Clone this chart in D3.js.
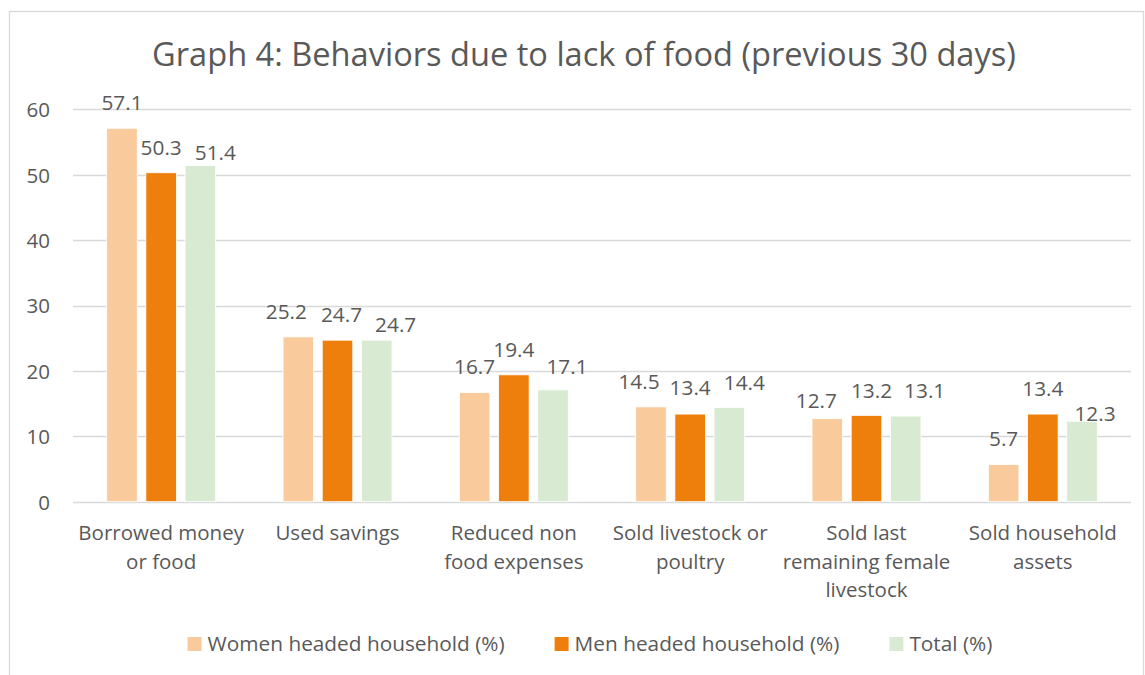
<!DOCTYPE html>
<html>
<head>
<meta charset="utf-8">
<script src="https://cdn.jsdelivr.net/npm/d3@7"></script>
<style>
  html, body { margin: 0; padding: 0; background: #fff; }
  svg { display: block; font-family: "Open Sans", "Noto Sans", sans-serif; }
</style>
</head>
<body>
<svg id="chart" width="1145" height="675"></svg>
<script>
// ---- data ----
const title = "Graph 4: Behaviors due to lack of food (previous 30 days)";
const categories = [
  "Borrowed money\nor food",
  "Used savings",
  "Reduced non\nfood expenses",
  "Sold livestock or\npoultry",
  "Sold last\nremaining female\nlivestock",
  "Sold household\nassets"
];
const seriesNames = ["Women headed household (%)", "Men headed household (%)", "Total (%)"];
const women = [57.1, 25.2, 16.7, 14.5, 12.7, 5.7];
const men   = [50.3, 24.7, 19.4, 13.4, 13.2, 13.4];
const total = [51.4, 24.7, 17.1, 14.4, 13.1, 12.3];
const yTicks = [0, 10, 20, 30, 40, 50, 60];

// ---- styling / layout (not data) ----
const colors = ["#F9CB9C", "#EF7F0C", "#D9EAD3"];
const textColor = "#595959";
const gridColor = "#D9D9D9";
// label nudges [dx, dy] per series per category (mimics manual label placement)
const labelNudge = [
  [[0,0],[-12,0],[0,0],[-12,0],[-11,7],[0,0]],
  [[0,0],[4,0],[0,0],[0,-1],[5,1],[0,0]],
  [[15,12.5],[19,10],[14,2.5],[15,0],[19,0],[13,17.5]]
];

const values = [women, men, total];
const svg = d3.select("#chart");

// border
svg.append("rect").attr("x", 9.5).attr("y", 11.5).attr("width", 1134).attr("height", 680)
  .attr("fill", "#fff").attr("stroke", gridColor).attr("stroke-width", 1.3);

const plotLeft = 73, plotRight = 1131;
const y = d3.scaleLinear().domain([0, 60]).range([501.7, 109.3]);
const x0 = d3.scaleBand().domain(d3.range(categories.length)).range([plotLeft, plotRight]).padding(0);
const x1 = d3.scaleBand().domain(d3.range(seriesNames.length)).range([0, x0.bandwidth()])
  .paddingInner(0.22).paddingOuter(0.86);

// title
svg.append("text").attr("x", 584).attr("y", 66).attr("text-anchor", "middle")
  .attr("fill", textColor).style("font-size", "32.6px").text(title);

// gridlines
svg.append("g").selectAll("line").data(yTicks).join("line")
  .attr("x1", plotLeft).attr("x2", plotRight)
  .attr("y1", d => Math.round(y(d)) + 0.5).attr("y2", d => Math.round(y(d)) + 0.5)
  .attr("stroke", gridColor).attr("stroke-width", 1.3);

// y axis labels
const yAxis = d3.axisLeft(y).tickValues(yTicks).tickSize(0).tickPadding(0);
const yg = svg.append("g").attr("transform", "translate(50,0)").call(yAxis);
yg.select(".domain").remove();
yg.selectAll("text").attr("fill", textColor).style("font-size", "20.5px")
  .style("font-family", "'Open Sans', sans-serif").attr("dy", "0.36em");

// bars
const groups = svg.append("g").selectAll("g").data(values).join("g")
  .attr("fill", (d, i) => colors[i]);
groups.each(function(vals, si) {
  d3.select(this).selectAll("rect").data(vals).join("rect")
    .attr("x", (d, ci) => x0(ci) + x1(si))
    .attr("y", d => y(d))
    .attr("width", x1.bandwidth())
    .attr("height", d => y(0) - y(d))
    .attr("stroke", "#fff").attr("stroke-width", 0.8);
});

// value labels
const lg = svg.append("g");
values.forEach((vals, si) => {
  lg.selectAll(null).data(vals).join("text")
    .attr("x", (d, ci) => x0(ci) + x1(si) + x1.bandwidth() / 2 + labelNudge[si][ci][0])
    .attr("y", (d, ci) => y(d) - 18 + labelNudge[si][ci][1])
    .attr("text-anchor", "middle").attr("fill", textColor)
    .style("font-size", "20.8px")
    .text(d => d.toFixed(1));
});

// category labels
const xAxis = d3.axisBottom(x0).tickSize(0).tickFormat("");
const xg = svg.append("g").attr("transform", `translate(0,${y(0)})`).call(xAxis);
xg.select(".domain").remove();
const cg = svg.append("g");
categories.forEach((c, ci) => {
  const t = cg.append("text").attr("text-anchor", "middle").attr("fill", textColor)
    .style("font-size", "20.5px");
  c.split("\n").forEach((line, li) => {
    t.append("tspan").attr("x", x0(ci) + x0.bandwidth() / 2).attr("y", 540 + li * 28.7).text(line);
  });
});

// legend
const leg = svg.append("g");
const items = seriesNames.map((name, i) => {
  const g = leg.append("g");
  g.append("rect").attr("x", 0).attr("y", -14).attr("width", 14).attr("height", 14).attr("fill", colors[i]);
  const t = g.append("text").attr("x", 20).attr("y", 0).attr("fill", textColor)
    .style("font-size", "20.8px").text(name);
  return { g, w: 20 + t.node().getComputedTextLength() };
});
const gap = 50;
const totalW = d3.sum(items, d => d.w) + gap * (items.length - 1);
let cx = 590 - totalW / 2;
items.forEach(it => {
  it.g.attr("transform", `translate(${cx},651)`);
  cx += it.w + gap;
});
</script>
</body>
</html>
